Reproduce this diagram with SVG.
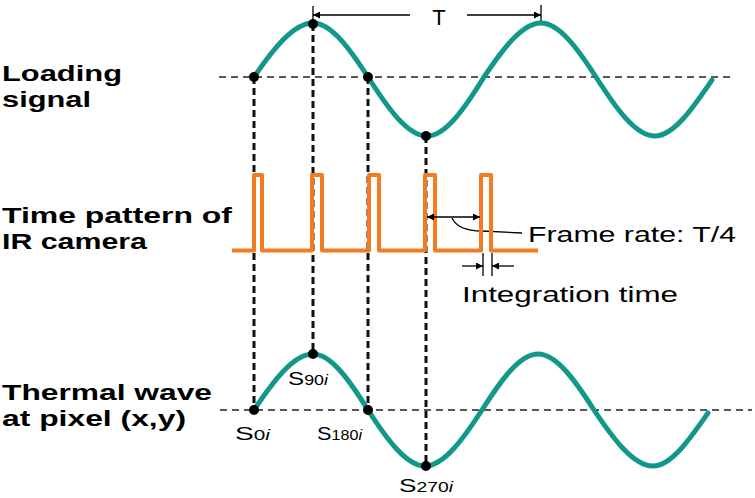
<svg xmlns="http://www.w3.org/2000/svg" width="755" height="498" viewBox="0 0 755 498">
<defs>
<marker id="ah" viewBox="0 0 10 10" refX="10" refY="5" markerWidth="8" markerHeight="7" markerUnits="userSpaceOnUse" orient="auto-start-reverse">
<path d="M0,0 L10,5 L0,10 z" fill="#000"/>
</marker>
<style>
.lbl{font-family:"Liberation Sans",Arial,sans-serif;font-weight:bold;font-size:22px;fill:#000}
.txt{font-family:"Liberation Sans",Arial,sans-serif;font-size:22px;fill:#000}
.s{font-family:"Liberation Sans",Arial,sans-serif;font-size:19px;fill:#000}
.sub{font-size:14px}
.wave{fill:none;stroke:#12978b;stroke-width:5;stroke-linecap:round}
.axis{fill:none;stroke:#222;stroke-width:1.5;stroke-dasharray:7 5}
.vdash{fill:none;stroke:#111;stroke-width:3;stroke-dasharray:7 4}
.pulse{fill:none;stroke:#f47b20;stroke-width:4;stroke-linejoin:round}
.thin{fill:none;stroke:#000;stroke-width:1.3}
.dot{fill:#000}
</style>
</defs>
<rect width="755" height="498" fill="#fff"/>

<g id="labels">
<text class="lbl" x="2" y="81" textLength="120" lengthAdjust="spacingAndGlyphs">Loading</text>
<text class="lbl" x="2" y="107" textLength="89" lengthAdjust="spacingAndGlyphs">signal</text>
<text class="lbl" x="2" y="223" textLength="230" lengthAdjust="spacingAndGlyphs">Time pattern of</text>
<text class="lbl" x="2" y="249" textLength="145" lengthAdjust="spacingAndGlyphs">IR camera</text>
<text class="lbl" x="2" y="400" textLength="210" lengthAdjust="spacingAndGlyphs">Thermal wave</text>
<text class="lbl" x="2" y="426" textLength="184" lengthAdjust="spacingAndGlyphs">at pixel (x,y)</text>
</g>

<g id="connectors">
<line class="axis" x1="219" y1="77" x2="734" y2="77"/>
<line class="axis" x1="220" y1="410" x2="752" y2="410"/>
<line class="vdash" x1="254" y1="77" x2="254" y2="410"/>
<line class="vdash" x1="313" y1="24" x2="313" y2="354"/>
<line class="vdash" x1="368" y1="77" x2="368" y2="410"/>
<line class="vdash" x1="426" y1="136" x2="426" y2="466"/>
<path class="thin" d="M452,218 Q458,231 482,231 L522,233"/>
</g>

<g id="period-T">
<line class="thin" x1="313" y1="6" x2="313" y2="25"/>
<line class="thin" x1="541" y1="5" x2="541" y2="25"/>
<line class="thin" x1="410" y1="15" x2="313" y2="15" marker-end="url(#ah)"/>
<line class="thin" x1="467" y1="15" x2="541" y2="15" marker-end="url(#ah)"/>
<text class="txt" x="439" y="25" font-size="25" text-anchor="middle">T</text>
</g>

<g id="loading-signal">
<path class="wave" d="M254,77 C273.2,49.3 293.4,23 313,23 C331.3,23 350.1,49.3 368,77 C387.2,107.2 407.4,136 427,136 C445.9,136 465.4,107.2 484,77 C502.6,49.3 522.1,23 541,23 C559.3,23 578.1,49.3 596,77 C615.2,107.2 635.4,136 655,136 C673.9,136 693.4,107.2 712,80"/>
<circle class="dot" cx="254" cy="77" r="5"/>
<circle class="dot" cx="313" cy="24" r="5"/>
<circle class="dot" cx="368" cy="77" r="5"/>
<circle class="dot" cx="426" cy="136" r="5"/>
</g>

<g id="camera-pattern">
<path class="pulse" d="M232,250.5 H254 V175 H262 V250.5 H312 V175 H322 V250.5 H369 V175 H379 V250.5 H425 V175 H435 V250.5 H481 V175 H491 V250.5 H538"/>
</g>

<g id="frame-rate">
<line class="thin" x1="427" y1="217" x2="480" y2="217" marker-start="url(#ah)" marker-end="url(#ah)"/>
<text class="txt" x="528" y="242" textLength="208" lengthAdjust="spacingAndGlyphs">Frame rate: T/4</text>
</g>

<g id="integration-time">
<line class="thin" x1="483" y1="253" x2="483" y2="276"/>
<line class="thin" x1="492" y1="253" x2="492" y2="276"/>
<line class="thin" x1="462" y1="266" x2="483" y2="266" marker-end="url(#ah)"/>
<line class="thin" x1="514" y1="266" x2="492" y2="266" marker-end="url(#ah)"/>
<text class="txt" x="462" y="302" textLength="216" lengthAdjust="spacingAndGlyphs">Integration time</text>
</g>

<g id="thermal-wave">
<path class="wave" d="M254,410 C273.2,381.3 293.4,354 313,354 C331.3,354 350.1,381.3 368,410 C386.6,438.7 406.1,466 425,466 C443.9,466 463.4,438.7 482,410 C500.3,381.3 519.4,354 538,354 C556.6,354 575.7,381.3 594,410 C613.2,438.7 633.4,466 653,466 C671.3,466 690.1,438.7 708,413"/>
<circle class="dot" cx="254" cy="410" r="5"/>
<circle class="dot" cx="313" cy="354" r="5"/>
<circle class="dot" cx="368" cy="410" r="5"/>
<circle class="dot" cx="426" cy="466" r="5"/>
</g>

<g id="sample-labels">
<text class="s" x="288" y="385" textLength="40" lengthAdjust="spacingAndGlyphs">S<tspan class="sub">90<tspan font-style="italic">i</tspan></tspan></text>
<text class="s" x="235" y="440" textLength="35" lengthAdjust="spacingAndGlyphs">S<tspan class="sub">0<tspan font-style="italic">i</tspan></tspan></text>
<text class="s" x="317" y="440" textLength="45" lengthAdjust="spacingAndGlyphs">S<tspan class="sub">180<tspan font-style="italic">i</tspan></tspan></text>
<text class="s" x="399" y="492" textLength="54" lengthAdjust="spacingAndGlyphs">S<tspan class="sub">270<tspan font-style="italic">i</tspan></tspan></text>
</g>
</svg>
